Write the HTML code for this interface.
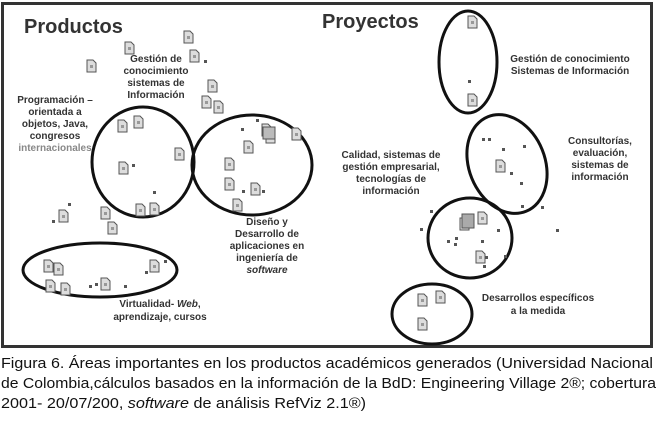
<!DOCTYPE html>
<html><head><meta charset="utf-8"><style>
html,body{margin:0;padding:0;background:#fff;width:656px;height:421px;overflow:hidden}
svg{display:block}
.h{font:bold 20px "Liberation Sans",sans-serif;fill:#333}
.l{font:bold 10px "Liberation Sans",sans-serif;fill:#333}
.c{font:15px "Liberation Sans",sans-serif;fill:#111}
.d{fill:#ddd;stroke:#555;stroke-width:1}
</style></head><body>
<svg width="656" height="421" viewBox="0 0 656 421">
<defs>
<g id="doc"><path class="d" d="M0,0 h6 l3,3 v9 h-9 z"/><rect x="3" y="5" width="3" height="3" fill="#999"/></g>
</defs>
<rect x="2.5" y="3.5" width="649" height="343" fill="none" stroke="#333" stroke-width="3"/>
<text class="h" x="24" y="33">Productos</text>
<text class="h" x="322" y="28">Proyectos</text>
<g fill="none" stroke="#111" stroke-width="3">
<ellipse cx="143" cy="162" rx="51" ry="55"/>
<ellipse cx="252" cy="165" rx="60" ry="50"/>
<ellipse cx="100" cy="270" rx="77" ry="27"/>
<ellipse cx="468" cy="62" rx="29" ry="51"/>
<ellipse cx="507" cy="164" rx="38" ry="51" transform="rotate(-22 507 164)"/>
<ellipse cx="470" cy="238" rx="42" ry="40"/>
<ellipse cx="432" cy="314" rx="40" ry="30"/>
</g>
<g>
<use href="#doc" x="125" y="42"/><use href="#doc" x="184" y="31"/><use href="#doc" x="190" y="50"/>
<use href="#doc" x="87" y="60"/><use href="#doc" x="208" y="80"/><use href="#doc" x="202" y="96"/>
<use href="#doc" x="214" y="101"/><use href="#doc" x="118" y="120"/><use href="#doc" x="134" y="116"/>
<use href="#doc" x="175" y="148"/><use href="#doc" x="119" y="162"/><use href="#doc" x="136" y="204"/>
<use href="#doc" x="150" y="203"/><use href="#doc" x="262" y="124"/><use href="#doc" x="266" y="131"/>
<use href="#doc" x="292" y="128"/><use href="#doc" x="244" y="141"/><use href="#doc" x="225" y="158"/>
<use href="#doc" x="225" y="178"/><use href="#doc" x="251" y="183"/><use href="#doc" x="233" y="199"/>
<use href="#doc" x="59" y="210"/><use href="#doc" x="101" y="207"/><use href="#doc" x="108" y="222"/>
<use href="#doc" x="44" y="260"/><use href="#doc" x="54" y="263"/><use href="#doc" x="46" y="280"/>
<use href="#doc" x="61" y="283"/><use href="#doc" x="101" y="278"/><use href="#doc" x="150" y="260"/>
<use href="#doc" x="468" y="16"/><use href="#doc" x="468" y="94"/><use href="#doc" x="496" y="160"/>
<use href="#doc" x="460" y="218"/><use href="#doc" x="478" y="212"/><use href="#doc" x="476" y="251"/>
<use href="#doc" x="418" y="294"/><use href="#doc" x="436" y="291"/><use href="#doc" x="418" y="318"/>
<rect x="462" y="214" width="12" height="14" fill="#aaa" stroke="#555"/>
<rect x="263" y="127" width="12" height="12" fill="#bbb" stroke="#555"/>
</g>
<g fill="#555">
<rect x="204" y="60" width="3" height="3"/><rect x="256" y="119" width="3" height="3"/><rect x="241" y="128" width="3" height="3"/>
<rect x="132" y="164" width="3" height="3"/><rect x="153" y="191" width="3" height="3"/><rect x="68" y="203" width="3" height="3"/>
<rect x="52" y="220" width="3" height="3"/><rect x="242" y="190" width="3" height="3"/><rect x="262" y="190" width="3" height="3"/>
<rect x="89" y="285" width="3" height="3"/><rect x="95" y="283" width="3" height="3"/><rect x="124" y="285" width="3" height="3"/>
<rect x="145" y="271" width="3" height="3"/><rect x="164" y="260" width="3" height="3"/><rect x="468" y="80" width="3" height="3"/>
<rect x="482" y="138" width="3" height="3"/><rect x="488" y="138" width="3" height="3"/><rect x="502" y="148" width="3" height="3"/>
<rect x="523" y="145" width="3" height="3"/><rect x="510" y="172" width="3" height="3"/><rect x="520" y="182" width="3" height="3"/>
<rect x="521" y="205" width="3" height="3"/><rect x="541" y="206" width="3" height="3"/><rect x="430" y="210" width="3" height="3"/>
<rect x="420" y="228" width="3" height="3"/><rect x="556" y="229" width="3" height="3"/><rect x="497" y="229" width="3" height="3"/>
<rect x="447" y="240" width="3" height="3"/><rect x="454" y="243" width="3" height="3"/><rect x="455" y="237" width="3" height="3"/>
<rect x="481" y="240" width="3" height="3"/><rect x="485" y="256" width="3" height="3"/><rect x="504" y="255" width="3" height="3"/>
<rect x="483" y="265" width="3" height="3"/>
</g>
<g class="l" text-anchor="middle">
<text x="156" y="62">Gestión de</text><text x="156" y="74">conocimiento</text><text x="156" y="86">sistemas de</text><text x="156" y="98">Información</text>
<text x="55" y="103">Programación –</text><text x="55" y="115">orientada a</text><text x="55" y="127">objetos, Java,</text><text x="55" y="139">congresos</text><text x="55" y="151" fill="#888">internacionales</text>
<text x="267" y="225">Diseño y</text><text x="267" y="237">Desarrollo de</text><text x="267" y="249">aplicaciones en</text><text x="267" y="261">ingeniería de</text><text x="267" y="273" font-style="italic">software</text>
<text x="160" y="307">Virtualidad- <tspan font-style="italic">Web</tspan>,</text><text x="160" y="320">aprendizaje, cursos</text>
<text x="391" y="158">Calidad, sistemas de</text><text x="391" y="170">gestión empresarial,</text><text x="391" y="182">tecnologías de</text><text x="391" y="194">información</text>
<text x="570" y="62">Gestión de conocimiento</text><text x="570" y="74">Sistemas de Información</text>
<text x="600" y="144">Consultorías,</text><text x="600" y="156">evaluación,</text><text x="600" y="168">sistemas de</text><text x="600" y="180">información</text>
<text x="538" y="301">Desarrollos específicos</text><text x="538" y="314">a la medida</text>
</g>
<text class="c" x="1" y="368" textLength="652" lengthAdjust="spacingAndGlyphs">Figura 6. Áreas importantes en los productos académicos generados (Universidad Nacional</text>
<text class="c" x="1" y="388" textLength="655" lengthAdjust="spacingAndGlyphs">de Colombia,cálculos basados en la información de la BdD: Engineering Village 2®; cobertura</text>
<text class="c" x="1" y="408" textLength="365" lengthAdjust="spacingAndGlyphs">2001- 20/07/200, <tspan font-style="italic">software</tspan> de análisis RefViz 2.1®)</text>
</svg>
</body></html>
